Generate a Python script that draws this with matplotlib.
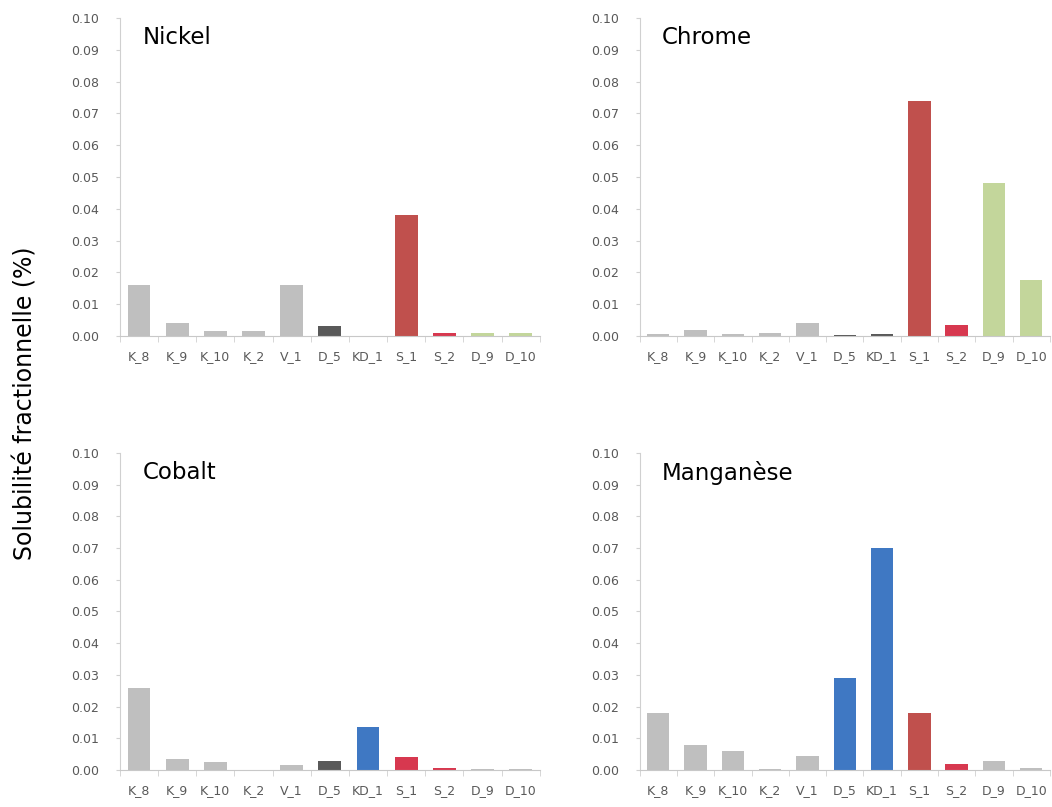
import matplotlib.pyplot as plt
import numpy as np

samples = ["K_8", "K_9", "K_10", "K_2", "V_1", "D_5", "KD_1", "S_1", "S_2", "D_9", "D_10"]

nickel = [0.016, 0.004, 0.0015, 0.0015, 0.016, 0.003, 0.0, 0.038, 0.001, 0.001, 0.001]
chrome = [0.0006, 0.002, 0.0005, 0.001, 0.004, 0.0003, 0.0005, 0.074, 0.0035, 0.048, 0.0175]
cobalt = [0.026, 0.0035, 0.0025, 0.0, 0.0015, 0.0028, 0.0135, 0.004, 0.0008, 0.0003, 0.0002]
manganese = [0.018, 0.008, 0.006, 0.0003, 0.0045, 0.029, 0.070, 0.018, 0.002, 0.0028, 0.0005]

GRAY = "#bfbfbf"
DARK = "#595959"
BLUE = "#3f78c3"
RED = "#c0504d"
PINK = "#d7384f"
GREEN = "#c3d69b"

nickel_colors = [GRAY] * 5 + [DARK, BLUE, RED, PINK, GREEN, GREEN]
chrome_colors = [GRAY] * 5 + [DARK, DARK, RED, PINK, GREEN, GREEN]
cobalt_colors = [GRAY] * 5 + [DARK, BLUE, PINK, PINK, GRAY, GRAY]
manganese_colors = [GRAY] * 5 + [BLUE, BLUE, RED, PINK, GRAY, GRAY]

panels = [
    ("Nickel", nickel, nickel_colors, [0.114, 0.5836, 0.399, 0.394]),
    ("Chrome", chrome, chrome_colors, [0.608, 0.5836, 0.390, 0.394]),
    ("Cobalt", cobalt, cobalt_colors, [0.114, 0.0458, 0.399, 0.393]),
    ("Manganèse", manganese, manganese_colors, [0.608, 0.0458, 0.390, 0.393]),
]

fig = plt.figure(figsize=(10.52, 8.07), dpi=100)

for title, values, colors, rect in panels:
    ax = fig.add_axes(rect)
    x = np.arange(len(samples))
    ax.bar(x, values, width=0.6, color=colors)
    ax.set_xlim(-0.5, len(samples) - 0.5)
    ax.set_ylim(0, 0.10)
    ax.set_yticks(np.arange(0, 0.101, 0.01))
    ax.set_yticklabels([f"{v:.2f}" for v in np.arange(0, 0.101, 0.01)])
    ax.set_xticks(x)
    ax.set_xticklabels(samples)
    ax.set_xticks(np.arange(-0.5, len(samples), 1), minor=True)
    ax.tick_params(axis="x", which="major", length=0, pad=10, labelsize=9, labelcolor="#595959")
    ax.tick_params(axis="x", which="minor", length=4, color="#d0d0d0")
    ax.tick_params(axis="y", length=3, color="#d0d0d0", labelsize=9, labelcolor="#595959", pad=12)
    for side in ["top", "right"]:
        ax.spines[side].set_visible(False)
    ax.spines["left"].set_color("#d0d0d0")
    ax.spines["bottom"].set_color("#c8c8c8")
    ax.text(0.055, 0.975, title, transform=ax.transAxes, fontsize=16.5, va="top", ha="left")

fig.text(0.024, 0.5, "Solubilité fractionnelle (%)", rotation=90, va="center", ha="center", fontsize=17)

fig.savefig("out.png", dpi=100)
